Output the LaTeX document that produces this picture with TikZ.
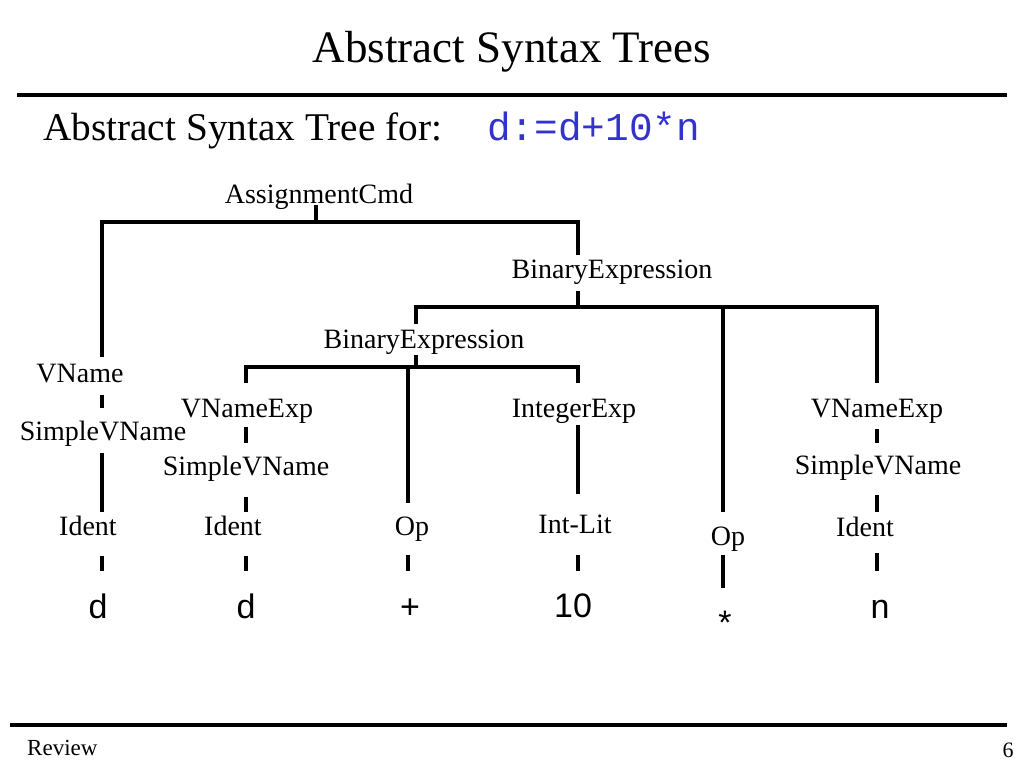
\documentclass[tikz,border=0pt]{standalone}
\usepackage{fontspec}
\setmainfont{Liberation Serif}
\setmonofont{Liberation Mono}
\newfontfamily\arialfont{Liberation Sans}
\usepackage{tikz}
\definecolor{codeblue}{RGB}{51,51,204}

\tikzset{
	lbl/.style={font=\fontsize{28}{32}\selectfont, anchor=base, inner sep=0pt},
	leaf/.style={font=\arialfont\fontsize{34}{38}\selectfont, anchor=base, inner sep=0pt},
	edge/.style={line width=3.3pt},
	rule/.style={line width=3.6pt},
}

\begin{document}
\begin{tikzpicture}[x=1pt, y=-1pt]
	\useasboundingbox (0,0) rectangle (1024,768);
	
	% header and footer
	\node[anchor=base, inner sep=0pt, font=\fontsize{45}{50}\selectfont] (title) at (512,63) {Abstract Syntax Trees};
	\coordinate (topl) at (17,95);
	\coordinate (topr) at (1007,95);
	\draw[rule] (topl) -- (topr);
	\node[anchor=base west, inner sep=0pt, font=\fontsize{39.3}{44}\selectfont] (sub) at (43,140) {Abstract Syntax Tree for:};
	\node[anchor=base west, inner sep=0pt, font=\ttfamily\fontsize{39.4}{44}\selectfont, text=codeblue] (code) at (487,140) {d:=d+10*n};
	\coordinate (botl) at (10,725);
	\coordinate (botr) at (1007,725);
	\draw[rule] (botl) -- (botr);
	\node[anchor=base west, inner sep=0pt, font=\fontsize{23}{26}\selectfont] (review) at (27,755) {Review};
	\node[anchor=base, inner sep=0pt, font=\fontsize{22}{26}\selectfont] (page) at (1008,757) {6};
	
	% columns and bars
	\coordinate (colA) at (102,0);
	\coordinate (colB) at (246,0);
	\coordinate (colC) at (408,0);
	\coordinate (colD) at (578,0);
	\coordinate (colE) at (723,0);
	\coordinate (colF) at (877,0);
	\coordinate (barA) at (316,222);
	\coordinate (barB) at (578,307);
	\coordinate (barC) at (416,367);
	
	% inner nodes
	\node[lbl] (assign) at (319,203) {AssignmentCmd};
	\node[lbl] (binA) at (612,278) {BinaryExpression};
	\node[lbl] (binB) at (424,348) {BinaryExpression};
	\node[lbl] (vname) at (80,382) {VName};
	\node[lbl] (svnA) at (103,440) {SimpleVName};
	\node[lbl] (identA) at (88,535) {Ident};
	\node[lbl] (vexpB) at (247,417) {VNameExp};
	\node[lbl] (svnB) at (246,475) {SimpleVName};
	\node[lbl] (identB) at (233,535) {Ident};
	\node[lbl] (opC) at (412,535) {Op};
	\node[lbl] (intexp) at (574,417) {IntegerExp};
	\node[lbl] (intlit) at (575,533) {Int-Lit};
	\node[lbl] (opE) at (728,545) {Op};
	\node[lbl] (vexpF) at (877,417) {VNameExp};
	\node[lbl] (svnF) at (878,474) {SimpleVName};
	\node[lbl] (identF) at (865,536) {Ident};
	
	% leaves
	\node[leaf] (dA) at (98,618) {d};
	\node[leaf] (dB) at (246,618) {d};
	\node[leaf] (plus) at (410,618) {+};
	\node[leaf] (ten) at (573,617) {10};
	\node[leaf] (star) at (725,634) {*};
	\node[leaf] (nF) at (880,618) {n};
	
	% bars
	\draw[edge, shorten <=2pt] (assign.base -| barA) -- (barA);
	\draw[edge, shorten >=25pt] (barA) -| (vname.base -| colA);
	\draw[edge, shorten >=23pt] (barA) -| (binA.base -| colD);
	\draw[edge, shorten <=13pt] (binA.base -| barB) -- (barB);
	\draw[edge, shorten >=24pt] (barB) -| (binB.base -| barC);
	\draw[edge, shorten >=33pt] (barB) -| (opE.base -| colE);
	\draw[edge, shorten >=34pt] (barB) -| (vexpF.base -| colF);
	\draw[edge, shorten <=7pt] (binB.base -| barC) -- (barC);
	\draw[edge, shorten >=34pt] (barC) -| (vexpB.base -| colB);
	\draw[edge, shorten >=32pt] (barC -| colC) -- (opC.base -| colC);
	\draw[edge, shorten >=34pt] (barC) -| (intexp.base -| colD);
	
	% chains
	\draw[edge, shorten <=13pt, shorten >=32pt] (vname.base -| colA) -- (svnA.base -| colA);
	\draw[edge, shorten <=13pt, shorten >=23pt] (svnA.base -| colA) -- (identA.base -| colA);
	\draw[edge, shorten <=21pt, shorten >=47pt] (identA.base -| colA) -- (dA.base -| colA);
	\draw[edge, shorten <=10pt, shorten >=32pt] (vexpB.base -| colB) -- (svnB.base -| colB);
	\draw[edge, shorten <=22pt, shorten >=23pt] (svnB.base -| colB) -- (identB.base -| colB);
	\draw[edge, shorten <=21pt, shorten >=47pt] (identB.base -| colB) -- (dB.base -| colB);
	\draw[edge, shorten <=20pt, shorten >=47pt] (opC.base -| colC) -- (plus.base -| colC);
	\draw[edge, shorten <=8pt, shorten >=39pt] (intexp.base -| colD) -- (intlit.base -| colD);
	\draw[edge, shorten <=22pt, shorten >=46pt] (intlit.base -| colD) -- (ten.base -| colD);
	\draw[edge, shorten <=10pt, shorten >=46pt] (opE.base -| colE) -- (star.base -| colE);
	\draw[edge, shorten <=12pt, shorten >=31pt] (vexpF.base -| colF) -- (svnF.base -| colF);
	\draw[edge, shorten <=21pt, shorten >=24pt] (svnF.base -| colF) -- (identF.base -| colF);
	\draw[edge, shorten <=17pt, shorten >=47pt] (identF.base -| colF) -- (nF.base -| colF);
\end{tikzpicture}
\end{document}
